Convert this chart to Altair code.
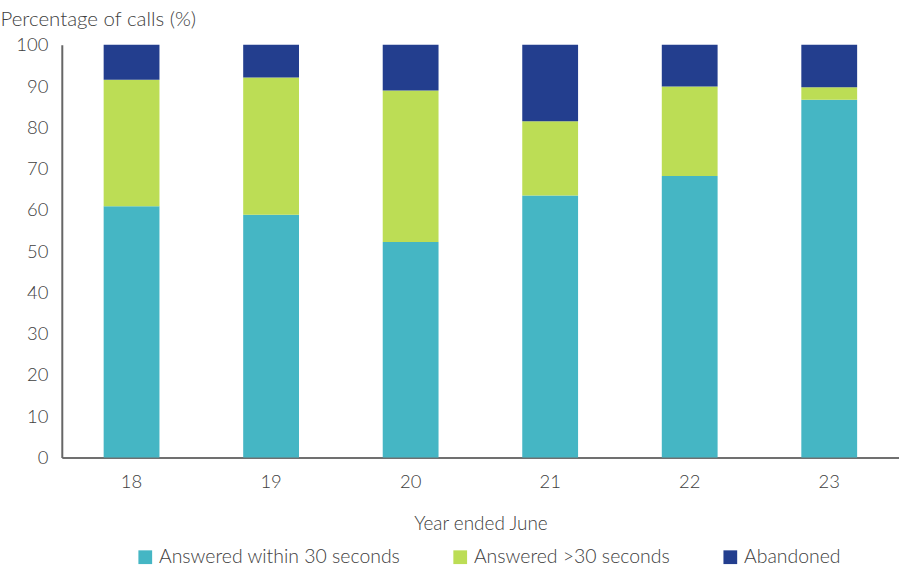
import altair as alt
import pandas as pd

years = ["18", "19", "20", "21", "22", "23"]
series = ["Answered within 30 seconds", "Answered >30 seconds", "Abandoned"]
within30 = [60.9, 58.8, 52.2, 63.5, 68.2, 86.7]
over30 = [30.6, 33.3, 36.7, 18.0, 21.7, 3.0]
abandoned = [8.5, 7.9, 11.1, 18.5, 10.1, 10.3]
colors = ["#45B6C4", "#BCDD55", "#233E8E"]

rows = []
for i, y in enumerate(years):
    for k, (name, vals) in enumerate(zip(series, [within30, over30, abandoned])):
        rows.append({"year": y, "series": name, "value": vals[i], "order": k})
df = pd.DataFrame(rows)

FONT = "Lato"

chart = alt.Chart(df).mark_bar().encode(
    x=alt.X("year:N", sort=years,
            scale=alt.Scale(paddingInner=0.6, paddingOuter=0.3),
            axis=alt.Axis(title="Year ended June", labelAngle=0, ticks=False,
                          labelPadding=15, titlePadding=24, domainColor="#404040",
                          domainWidth=1.5)),
    y=alt.Y("value:Q", stack="zero",
            scale=alt.Scale(domain=[0, 100], nice=False),
            axis=alt.Axis(title="Percentage of calls (%)", values=list(range(0, 101, 10)),
                          ticks=False, grid=False, labelPadding=14,
                          titleAngle=0, titleX=-62, titleY=-19, titleAlign="left",
                          titleBaseline="alphabetic", titleFontSize=20.5,
                          domainColor="#666666", domainWidth=2)),
    color=alt.Color("series:N", scale=alt.Scale(domain=series, range=colors),
                    legend=alt.Legend(title=None, orient="none", direction="horizontal",
                                      legendX=74, legendY=504, symbolType="square",
                                      symbolSize=190, symbolStrokeWidth=0,
                                      columnPadding=50, labelFontSize=19.5, labelLimit=0,
                                      labelFont=FONT, labelColor="#404040",
                                      labelFontWeight=300)),
    order=alt.Order("order:Q", sort="ascending"),
).properties(
    width=840, height=414,
    autosize=alt.AutoSizeParams(type="none"),
    padding={"left": 62, "top": 44, "right": 0, "bottom": 109},
).configure_view(stroke=None).configure_axis(
    labelFont=FONT, titleFont=FONT, labelFontSize=18.5, titleFontSize=19,
    labelColor="#404040", titleColor="#404040", labelFontWeight=300,
    titleFontWeight=300,
)

chart.save("out.html", embed_options={"renderer": "svg", "actions": False})
